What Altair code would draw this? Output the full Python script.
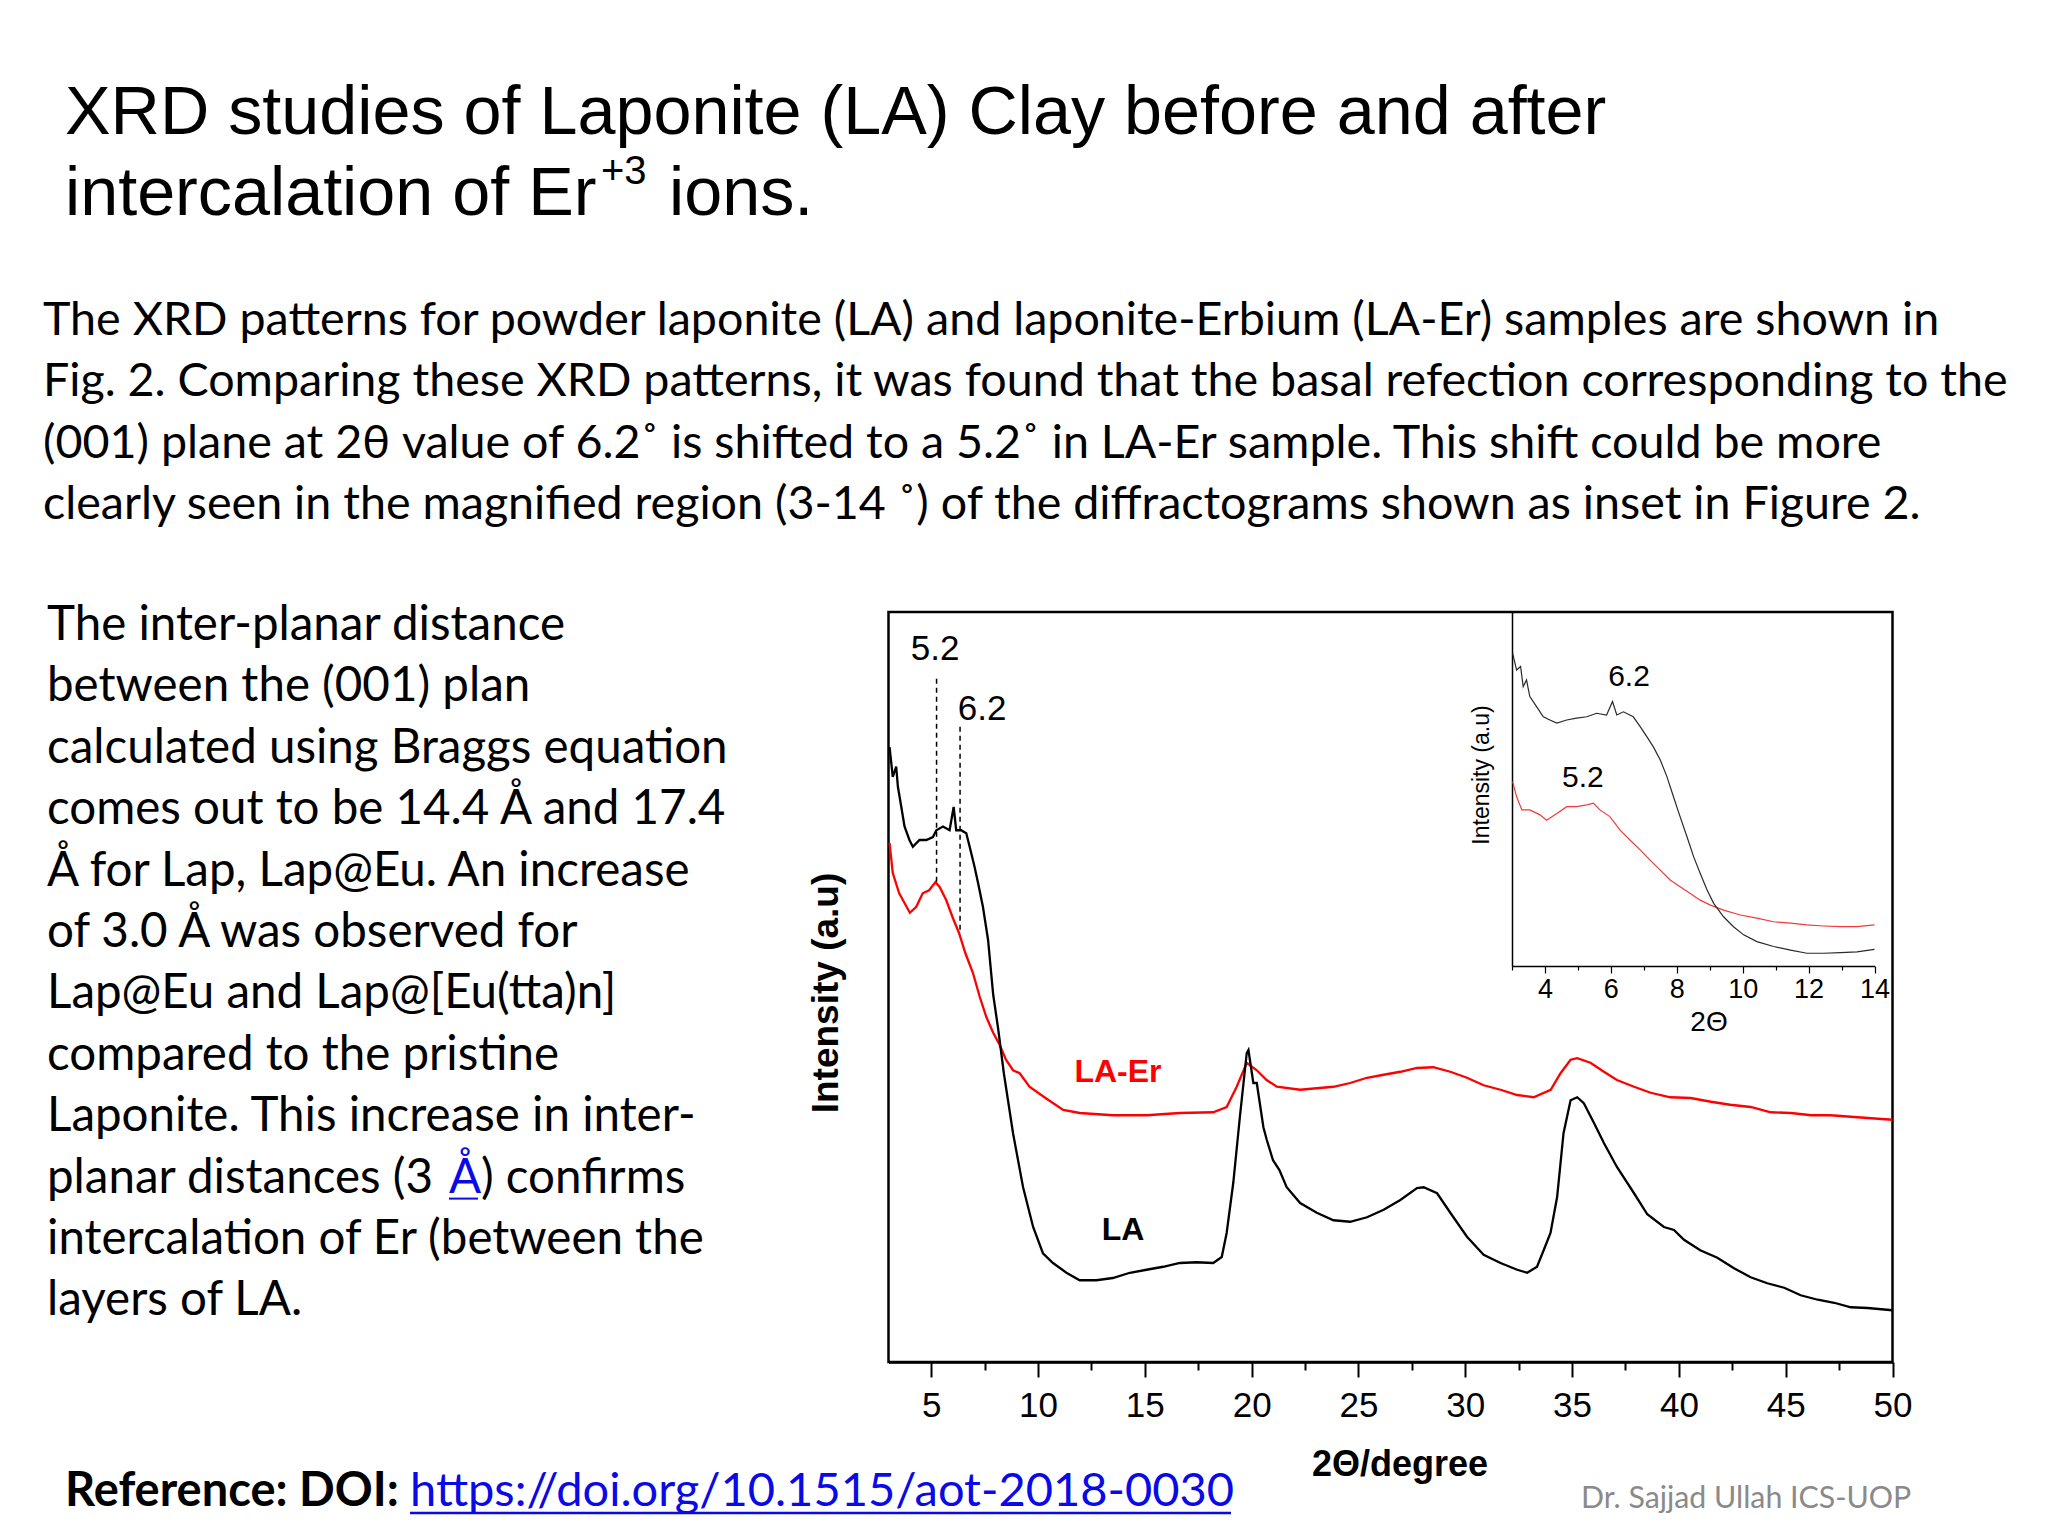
import altair as alt
import pandas as pd

# ---------------- data ----------------
LA_x = [3.05, 3.2, 3.36, 3.44, 3.6, 3.75, 3.98, 4.14, 4.45, 4.77,
        5.08, 5.24, 5.55, 5.86, 6.05, 6.17, 6.4, 6.64, 6.8, 7.03,
        7.19, 7.42, 7.66, 7.9, 8.13, 8.4, 8.83, 9.3, 9.77, 10.23,
        10.7, 11.33, 11.95, 12.73, 13.5, 14.3, 15.08, 15.86, 16.64, 17.42,
        18.2, 18.6, 18.83, 19.14, 19.45, 19.77, 19.85, 20.08, 20.24, 20.55,
        20.71, 21.0, 21.3, 21.64, 22.27, 23.05, 23.83, 24.61, 25.4, 26.18,
        26.96, 27.74, 28.05, 28.68, 29.3, 30.08, 30.86, 31.65, 32.43, 32.9,
        33.36, 33.67, 33.99, 34.3, 34.6, 34.93, 35.24, 35.55, 36.02, 36.49,
        37.1, 37.9, 38.52, 39.3, 39.77, 40.24, 41.0, 41.8, 42.58, 43.36,
        44.14, 44.93, 45.7, 46.5, 47.27, 48.05, 48.83, 50.0]
LA_y = [82.0, 78.0, 79.4, 76.7, 74.0, 71.4, 69.6, 68.7, 69.6, 69.6,
        70.0, 70.9, 71.4, 70.9, 74.0, 70.9, 70.9, 70.5, 68.7, 66.0,
        63.9, 60.7, 56.3, 49.0, 44.5, 38.5, 30.5, 23.3, 18.0, 14.5,
        13.2, 11.9, 10.9, 10.9, 11.2, 11.9, 12.3, 12.7, 13.2, 13.3,
        13.2, 14.0, 17.2, 23.9, 32.7, 41.2, 41.6, 37.2, 37.2, 31.3,
        29.6, 26.9, 25.6, 23.3, 21.2, 19.9, 18.9, 18.7, 19.3, 20.3,
        21.6, 23.2, 23.3, 22.5, 19.9, 16.7, 14.3, 13.2, 12.3, 11.9,
        12.7, 14.9, 17.2, 22.0, 30.5, 34.9, 35.3, 34.5, 31.9, 29.2,
        26.0, 22.5, 19.7, 18.0, 17.6, 16.3, 14.9, 13.9, 12.5, 11.3,
        10.5, 9.9, 8.9, 8.3, 7.9, 7.3, 7.2, 6.9]

LAEr_x = [3.05, 3.2, 3.5, 4.0, 4.3, 4.6, 4.9, 5.2, 5.4, 5.7,
          6.0, 6.3, 6.6, 6.95, 7.27, 7.58, 7.9, 8.2, 8.5, 8.83,
          9.14, 9.6, 10.4, 11.18, 11.95, 13.5, 15.08, 16.64, 18.2, 18.83,
          19.3, 19.77, 20.24, 20.7, 21.18, 22.27, 23.05, 23.83, 24.61, 25.4,
          26.18, 26.96, 27.74, 28.5, 29.3, 30.08, 30.86, 31.65, 32.43, 33.2,
          34.0, 34.46, 34.93, 35.24, 35.86, 36.49, 37.1, 37.9, 38.68, 39.6,
          40.55, 41.5, 42.4, 43.36, 44.3, 45.24, 46.2, 47.1, 48.05, 49.0, 50.0]
LAEr_y = [69.2, 65.2, 62.5, 59.9, 60.7, 62.5, 62.9, 64.0, 63.3, 61.6,
          59.3, 57.2, 54.5, 51.9, 48.7, 46.0, 43.9, 42.3, 40.3, 38.9,
          38.5, 36.7, 35.1, 33.6, 33.2, 32.9, 32.9, 33.2, 33.3, 34.0,
          36.7, 39.9, 38.9, 37.6, 36.7, 36.3, 36.5, 36.7, 37.2, 37.9,
          38.3, 38.7, 39.2, 39.3, 38.7, 37.9, 36.9, 36.3, 35.6, 35.3,
          36.3, 38.5, 40.3, 40.5, 39.9, 38.7, 37.6, 36.7, 35.9, 35.3,
          35.2, 34.7, 34.3, 34.0, 33.3, 33.2, 32.9, 32.9, 32.7, 32.5, 32.3]

INSET_LA_x = [3.02, 3.14, 3.26, 3.34, 3.44, 3.54, 3.75, 3.95, 4.15, 4.36,
              4.66, 4.96, 5.27, 5.57, 5.87, 6.05, 6.18, 6.38, 6.68, 6.89,
              7.09, 7.29, 7.5, 7.7, 7.9, 8.1, 8.31, 8.51, 8.71, 8.92,
              9.12, 9.42, 9.72, 10.03, 10.43, 10.94, 11.45, 11.95, 12.46, 12.97, 13.47, 14.0]
INSET_LA_y = [88.3, 83.6, 84.6, 78.9, 80.8, 76.1, 73.2, 70.4, 69.5, 68.6,
              69.5, 70.0, 70.4, 71.4, 70.9, 74.7, 70.9, 71.8, 70.4, 67.6,
              64.8, 61.9, 58.2, 53.5, 47.8, 42.2, 36.5, 30.9, 26.2, 21.5,
              17.7, 13.9, 11.1, 8.8, 6.9, 5.5, 4.5, 3.6, 3.6, 3.8, 4.0, 4.7]
INSET_ER_x = [3.02, 3.14, 3.3, 3.54, 3.85, 4.05, 4.36, 4.66, 4.96, 5.27,
              5.47, 5.67, 5.97, 6.28, 6.58, 6.89, 7.19, 7.5, 7.8, 8.1,
              8.41, 8.71, 9.02, 9.42, 9.93, 10.43, 10.94, 11.45, 11.95, 12.46, 12.97, 13.47, 14.0]
INSET_ER_y = [52.1, 47.8, 44.1, 44.1, 42.7, 41.2, 43.1, 45.0, 45.0, 45.5,
              46.0, 44.1, 42.2, 38.4, 35.6, 32.8, 29.9, 27.1, 24.3, 22.4,
              20.5, 18.6, 17.2, 15.8, 14.4, 13.5, 12.5, 12.1, 11.6, 11.3, 11.1, 11.1, 11.6]

SERIES = ["LA-Er", "LA"]
MAIN_MAJOR = [5, 10, 15, 20, 25, 30, 35, 40, 45, 50]
MAIN_MINOR = [7.5, 12.5, 17.5, 22.5, 27.5, 32.5, 37.5, 42.5, 47.5]
INSET_MAJOR = [4, 6, 8, 10, 12, 14]
INSET_MINOR = [3, 5, 7, 9, 11, 13]

# peak markers (position, top, bottom of dashed guide) and labels
GUIDE_X = [5.25, 6.35]
GUIDE_TOP = [91.1, 84.7]
GUIDE_BOTTOM = [64.0, 57.2]
MAIN_LABELS = ["5.2", "6.2"]
MAIN_LABEL_X = [5.18, 7.38]
MAIN_LABEL_Y = [95.1, 87.1]
SERIES_LABEL_X = [13.74, 13.98]
SERIES_LABEL_Y = [38.7, 17.6]
INSET_LABELS = ["6.2", "5.2"]
INSET_LABEL_X = [6.55, 5.15]
INSET_LABEL_Y = [81.6, 53.1]

TITLE_1 = "XRD studies of Laponite (LA) Clay before and after"
TITLE_2A = "intercalation of Er"
TITLE_2SUP = "+3"
TITLE_2B = "ions."
PARA = [
    "The XRD patterns for powder laponite (LA) and laponite-Erbium (LA-Er) samples are shown in",
    "Fig. 2. Comparing these XRD patterns, it was found that the basal refection corresponding to the",
    "(001) plane at 2\u03b8 value of 6.2\u02da is shifted to a 5.2\u02da in LA-Er sample. This shift could be more",
    "clearly seen in the magnified region (3-14 \u02da) of the diffractograms shown as inset in Figure 2.",
]
LEFT_A = [
    "The inter-planar distance",
    "between the (001) plan",
    "calculated using Braggs equation",
    "comes out to be 14.4 \u00c5 and 17.4",
    "\u00c5 for Lap, Lap@Eu. An increase",
    "of 3.0 \u00c5 was observed for",
    "Lap@Eu and Lap@[Eu(tta)n]",
    "compared to the pristine",
    "Laponite. This increase in inter-",
]
LEFT_LINK = ["planar distances (3 ", "\u00c5", ") confirms"]
LEFT_B = [
    "intercalation of Er (between the",
    "layers of LA.",
]
REF_LABEL = "Reference: DOI:"
REF_LINK = "https://doi.org/10.1515/aot-2018-0030"
AUTHOR = "Dr. Sajjad Ullah ICS-UOP"

# ---------------- layout ----------------
W, H = 2032, 1520
OFF = 8


def c(v):
    return v - OFF


SANS = "Liberation Sans"
BODY = "Lato"
BODY_SIZE = 47.5
PARA_SIZE = 46.6
LINK_BLUE = "#0a0ae6"

main_x = alt.Scale(domain=[3, 50], range=[c(888.5), c(1892.5)], nice=False, zero=False)
main_y = alt.Scale(domain=[0, 100], range=[c(1362), c(612)], nice=False, zero=False)
ins_x = alt.Scale(domain=[3, 14], range=[c(1512), c(1874.5)], nice=False, zero=False)
ins_y = alt.Scale(domain=[0, 100], range=[c(966), c(612)], nice=False, zero=False)

main_df = pd.concat([
    pd.DataFrame({"t": LAEr_x, "i": LAEr_y, "s": SERIES[0]}),
    pd.DataFrame({"t": LA_x, "i": LA_y, "s": SERIES[1]}),
], ignore_index=True)
inset_df = pd.concat([
    pd.DataFrame({"t": INSET_ER_x, "i": INSET_ER_y, "s": SERIES[0]}),
    pd.DataFrame({"t": INSET_LA_x, "i": INSET_LA_y, "s": SERIES[1]}),
], ignore_index=True)

layers = []

# frame of the main plot (axis limits)
frame_df = pd.DataFrame({"x1": [3], "x2": [50], "y1": [0], "y2": [100]})
layers.append(
    alt.Chart(frame_df).mark_rect(fillOpacity=0, stroke="black", strokeWidth=2.5).encode(
        x=alt.X("x1:Q", scale=main_x, axis=None), x2="x2:Q",
        y=alt.Y("y1:Q", scale=main_y, axis=None), y2="y2:Q")
)

# main curves with the bottom axis
layers.append(
    alt.Chart(main_df).mark_line(strokeWidth=2.3).encode(
        x=alt.X("t:Q", scale=main_x, axis=alt.Axis(
            orient="bottom", offset=c(1362) - H, values=MAIN_MAJOR, title=None,
            tickSize=15, tickWidth=2, tickColor="black", domainWidth=2.5, domainColor="black",
            labelFont=SANS, labelFontSize=35, labelColor="black", labelPadding=11,
            labelFlush=False, labelOverlap=False, format="d")),
        y=alt.Y("i:Q", scale=main_y, axis=None),
        color=alt.Color("s:N", scale=alt.Scale(domain=SERIES, range=["#ff0000", "#000000"]), legend=None),
        detail="s:N",
    )
)

# minor ticks of main axis
layers.append(
    alt.Chart(pd.DataFrame({"t": MAIN_MINOR})).mark_point(opacity=0).encode(
        x=alt.X("t:Q", scale=main_x, axis=alt.Axis(
            orient="bottom", offset=c(1362) - H, values=MAIN_MINOR, title=None, labels=False,
            domain=False, tickSize=8, tickWidth=2, tickColor="black"))
    )
)

# dashed guides
guide_df = pd.DataFrame({"g": GUIDE_X, "top": GUIDE_TOP, "bot": GUIDE_BOTTOM})
layers.append(
    alt.Chart(guide_df).mark_rule(strokeDash=[5, 4], strokeWidth=1.5, color="black").encode(
        x=alt.X("g:Q", scale=main_x, axis=None),
        y=alt.Y("top:Q", scale=main_y, axis=None), y2="bot:Q")
)

# peak labels in the main plot
layers.append(
    alt.Chart(pd.DataFrame({"t": MAIN_LABEL_X, "i": MAIN_LABEL_Y, "l": MAIN_LABELS})).mark_text(
        font=SANS, fontSize=35, color="black", align="center", baseline="middle").encode(
        x=alt.X("t:Q", scale=main_x, axis=None), y=alt.Y("i:Q", scale=main_y, axis=None), text="l:N")
)

# series labels
layers.append(
    alt.Chart(pd.DataFrame({"t": SERIES_LABEL_X, "i": SERIES_LABEL_Y, "l": SERIES})).mark_text(
        font=SANS, fontSize=32, fontWeight="bold", align="center", baseline="middle").encode(
        x=alt.X("t:Q", scale=main_x, axis=None), y=alt.Y("i:Q", scale=main_y, axis=None), text="l:N",
        color=alt.Color("l:N", scale=alt.Scale(domain=SERIES, range=["#ff0000", "#000000"]), legend=None))
)

# inset curves with its axes
layers.append(
    alt.Chart(inset_df).mark_line(strokeWidth=1.2).encode(
        x=alt.X("t:Q", scale=ins_x, axis=alt.Axis(
            orient="bottom", offset=c(966) - H, values=INSET_MAJOR, title=None,
            tickSize=7, tickWidth=1.2, tickColor="black", domainWidth=1.5, domainColor="black",
            labelFont=SANS, labelFontSize=27, labelColor="black", labelPadding=3,
            labelFlush=False, labelOverlap=False, format="d")),
        y=alt.Y("i:Q", scale=ins_y, axis=alt.Axis(
            orient="left", offset=-c(1512), labels=False, ticks=False, title=None,
            domainWidth=1.5, domainColor="black")),
        color=alt.Color("s:N", scale=alt.Scale(domain=SERIES, range=["#f03a3a", "#2a2a2a"]), legend=None),
        detail="s:N",
    )
)
layers.append(
    alt.Chart(pd.DataFrame({"t": INSET_MINOR})).mark_point(opacity=0).encode(
        x=alt.X("t:Q", scale=ins_x, axis=alt.Axis(
            orient="bottom", offset=c(966) - H, values=INSET_MINOR, title=None, labels=False,
            domain=False, tickSize=4, tickWidth=1.2, tickColor="black"))
    )
)
layers.append(
    alt.Chart(pd.DataFrame({"t": INSET_LABEL_X, "i": INSET_LABEL_Y, "l": INSET_LABELS})).mark_text(
        font=SANS, fontSize=30, color="black", align="center", baseline="middle").encode(
        x=alt.X("t:Q", scale=ins_x, axis=None), y=alt.Y("i:Q", scale=ins_y, axis=None), text="l:N")
)


def txt(text, x, y, size, font=BODY, weight="normal", color="black", align="left",
        baseline="alphabetic", angle=None, line_height=None):
    kw = dict(text=text, fontSize=size, font=font, fontWeight=weight, color=color,
              align=align, baseline=baseline)
    if angle is not None:
        kw["angle"] = angle
    if line_height is not None:
        kw["lineHeight"] = line_height
    return alt.Chart(alt.Data(values=[{"k": 1}])).mark_text(**kw).encode(
        x=alt.value(x), y=alt.value(y))


def hline(x1, x2, y, color, width=2):
    return alt.Chart(alt.Data(values=[{"k": 1}])).mark_rule(color=color, strokeWidth=width).encode(
        x=alt.value(x1), x2=alt.value(x2), y=alt.value(y))


# axis titles
layers.append(txt("2\u0398/degree", c(1400), c(1465), 36, font=SANS, weight="bold",
                  align="center", baseline="middle"))
layers.append(txt("Intensity (a.u)", c(827), c(993), 37, font=SANS, weight="bold",
                  align="center", baseline="middle", angle=270))
layers.append(txt("2\u0398", c(1709), c(1023), 28, font=SANS, align="center", baseline="middle"))
layers.append(txt("Intensity (a.u)", c(1482), c(775), 23, font=SANS, align="center",
                  baseline="middle", angle=270))

# slide title
layers.append(txt(TITLE_1, c(65), c(134), 68.3, font=SANS))
layers.append(txt(TITLE_2A, c(65), c(215), 68.3, font=SANS))
layers.append(txt(TITLE_2SUP, c(601), c(184), 40, font=SANS))
layers.append(txt(TITLE_2B, c(669), c(215), 68.3, font=SANS))

# paragraphs
LH = 61.4
layers.append(txt(PARA, c(43), c(335), PARA_SIZE, line_height=LH))
layers.append(txt(LEFT_A, c(47), c(640), BODY_SIZE, line_height=LH))
y_link = 640 + 9 * LH
layers.append(txt(LEFT_LINK[0], c(47), c(y_link), BODY_SIZE))
layers.append(txt(LEFT_LINK[1], c(449), c(y_link), BODY_SIZE, color=LINK_BLUE))
layers.append(hline(c(449), c(478), c(y_link + 6), LINK_BLUE, 2))
layers.append(txt(LEFT_LINK[2], c(481), c(y_link), BODY_SIZE))
layers.append(txt(LEFT_B, c(47), c(640 + 10 * LH), BODY_SIZE, line_height=LH))

# footer
layers.append(txt(REF_LABEL, c(65), c(1506), 47, weight="bold"))
layers.append(txt(REF_LINK, c(410), c(1506), 47, color=LINK_BLUE))
layers.append(hline(c(410), c(1231), c(1513), LINK_BLUE, 2.5))
layers.append(txt(AUTHOR, c(1581), c(1508), 30.3, color="#8a8a8a"))

chart = alt.layer(*layers).resolve_scale(
    x="independent", y="independent", color="independent"
).properties(
    width=W, height=H, autosize=alt.AutoSizeParams(type="none"), padding=0, background="white"
).configure_view(stroke=None).configure_axis(grid=False)

chart.save("out.html", embed_options={"renderer": "svg", "actions": False})
